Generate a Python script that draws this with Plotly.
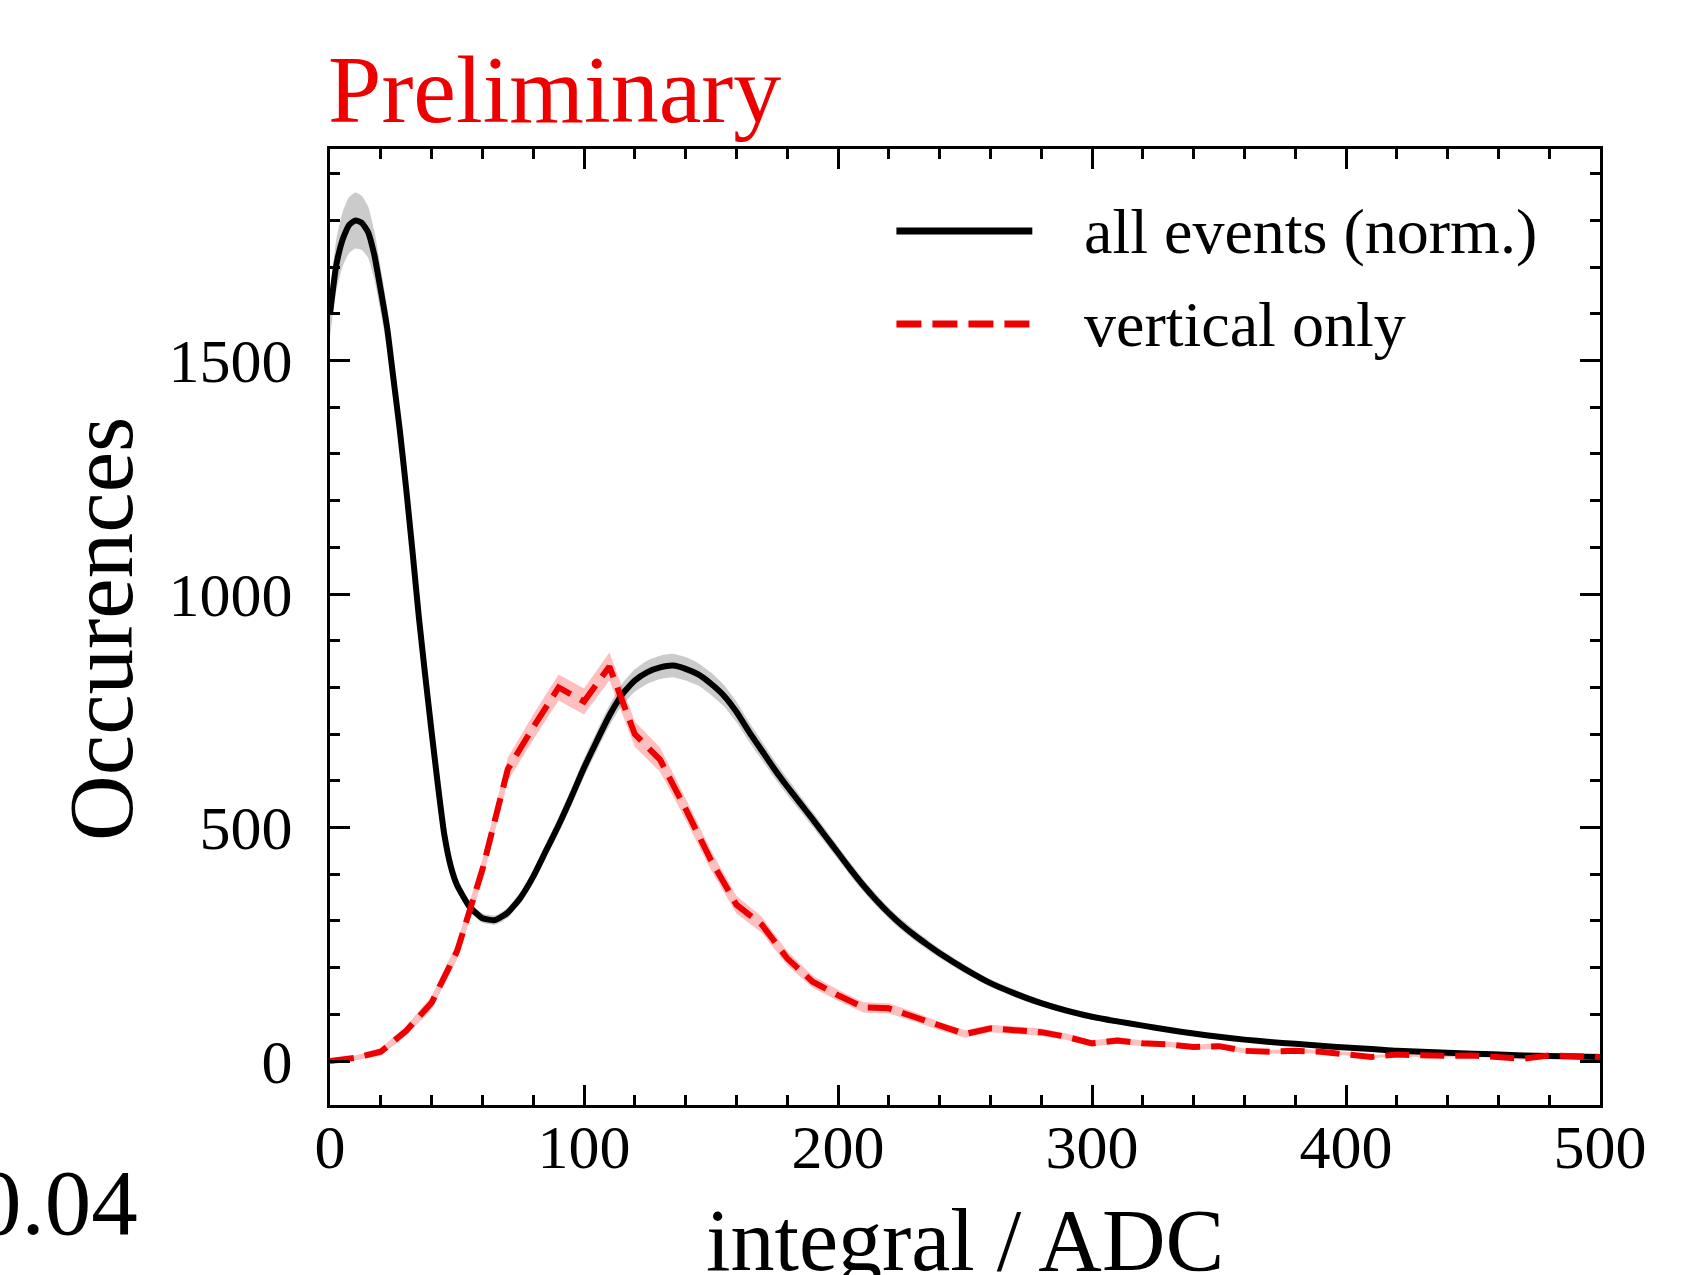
import plotly.graph_objects as go

# ---------------- data ----------------
all_x = [0, 2.5, 5, 7.5, 10, 12.5, 15, 17.5, 20, 22.5, 25, 27.5, 30, 32.5, 35, 37.5, 40, 42.5, 45, 47.5, 50,
         55, 60, 65, 70, 75, 80, 85, 90, 95, 100, 105, 110, 115, 120, 125, 130, 135, 140, 145, 150,
         155, 160, 165, 170, 175, 180, 185, 190, 195, 200, 205, 210, 215, 220, 225, 230, 235, 240,
         250, 260, 270, 280, 290, 300, 310, 320, 330, 340, 350, 360, 370, 380,
         390, 400, 410, 420, 430, 440, 450, 460, 470, 480, 490, 500]
all_y = [1600, 1705, 1760, 1790, 1800, 1795, 1775, 1725, 1650, 1570, 1460, 1350, 1225, 1090, 950, 825, 705, 590, 485, 418, 377,
         330, 306, 302, 318, 350, 395, 450, 505, 565, 628, 685, 740, 785, 815, 833, 843, 847, 840, 828, 808,
         783, 748, 705, 665, 625, 588, 553, 518, 482, 446, 410, 376, 345, 317, 292, 270, 250, 231,
         197, 167, 144, 124, 108, 95, 85, 76, 67, 59, 52, 46, 41, 37,
         33, 29, 26, 22, 20, 18, 16, 14, 12, 11, 10, 9]
all_err = [50, 55, 58, 60, 60, 58, 55, 52, 48, 45, 42, 40, 37, 35, 32, 28, 25, 20, 16, 14, 12,
           10, 10, 10, 11, 12, 14, 15, 17, 18, 20, 21, 22, 23, 24, 25, 25, 25, 25, 24, 24,
           23, 22, 21, 20, 19, 18, 17, 16, 15, 14, 14, 13, 13, 12, 12, 11, 11, 10,
           9, 8, 8, 7, 7, 6, 6, 5, 5, 5, 5, 4, 4, 4,
           4, 4, 4, 3, 3, 3, 3, 3, 3, 3, 3, 3]

vert_x = [0, 10, 20, 30, 40, 50, 60, 70, 80, 90, 100, 110, 120, 130, 140, 150, 160, 170, 180, 190,
          200, 210, 220, 230, 240, 250, 260, 270, 280, 290, 300, 310, 320, 330, 340, 350, 360, 370,
          380, 390, 400, 410, 420, 430, 440, 450, 460, 470, 480, 490, 500]
vert_y = [0, 7, 20, 65, 125, 235, 410, 625, 715, 800, 770, 845, 700, 645, 540, 430, 335, 292, 220, 170,
          141, 115, 113, 95, 75, 58, 70, 66, 62, 52, 38, 44, 38, 36, 30, 32, 22, 20,
          22, 20, 16, 9, 14, 12, 11, 12, 10, 5, 12, 9, 9]
vert_err = [3, 5, 8, 10, 14, 18, 22, 25, 27, 28, 28, 30, 27, 26, 23, 21, 19, 17, 15, 13,
            12, 11, 11, 10, 9, 8, 8, 8, 8, 7, 6, 7, 6, 6, 5, 6, 5, 4,
            5, 4, 4, 3, 4, 3, 3, 3, 3, 2, 3, 3, 3]

x_ticks = [0, 100, 200, 300, 400, 500]
y_ticks = [0, 500, 1000, 1500]
legend_names = ["all events (norm.)", "vertical only"]

FONT = "Liberation Serif, Times New Roman, serif"
RED = "#ee0000"

fig = go.Figure()

# uncertainty bands
fig.add_trace(go.Scatter(x=all_x, y=[v - e for v, e in zip(all_y, all_err)], mode="lines",
                         line=dict(width=0, shape="spline", smoothing=0.5), showlegend=False, hoverinfo="skip"))
fig.add_trace(go.Scatter(x=all_x, y=[v + e for v, e in zip(all_y, all_err)], mode="lines",
                         line=dict(width=0, shape="spline", smoothing=0.5), fill="tonexty",
                         fillcolor="rgba(160,160,160,0.55)", showlegend=False, hoverinfo="skip"))
fig.add_trace(go.Scatter(x=vert_x, y=[v - e for v, e in zip(vert_y, vert_err)], mode="lines",
                         line=dict(width=0), showlegend=False, hoverinfo="skip"))
fig.add_trace(go.Scatter(x=vert_x, y=[v + e for v, e in zip(vert_y, vert_err)], mode="lines",
                         line=dict(width=0), fill="tonexty", fillcolor="rgba(255,0,0,0.25)",
                         showlegend=False, hoverinfo="skip"))

# main curves
fig.add_trace(go.Scatter(x=all_x, y=all_y, mode="lines", name=legend_names[0],
                         line=dict(color="black", width=6, shape="spline", smoothing=0.5),
                         showlegend=False))
fig.add_trace(go.Scatter(x=vert_x, y=vert_y, mode="lines", name=legend_names[1],
                         line=dict(color=RED, width=6, dash="24px,11px"),
                         showlegend=False))

# manual legend (long line samples as in the reference)
leg_x0, leg_x1, leg_text_x = 0.446, 0.553, 0.592
leg_rows = [0.9142, 0.8169]
fig.add_shape(type="line", xref="paper", yref="paper", x0=leg_x0, x1=leg_x1, y0=leg_rows[0], y1=leg_rows[0],
              line=dict(color="black", width=7))
fig.add_shape(type="line", xref="paper", yref="paper", x0=leg_x0, x1=leg_x1, y0=leg_rows[1], y1=leg_rows[1],
              line=dict(color=RED, width=7, dash="25px,11px"))
for name, yy in zip(legend_names, leg_rows):
    fig.add_annotation(text=name, xref="paper", yref="paper", x=leg_text_x, y=yy,
                       xanchor="left", yanchor="middle", showarrow=False,
                       font=dict(family=FONT, size=64, color="black"))

# texts
fig.add_annotation(text="Preliminary", xref="paper", yref="paper", x=-0.003, y=1.062,
                   xanchor="left", yanchor="middle", showarrow=False,
                   font=dict(family=FONT, size=96, color=RED))
fig.add_annotation(text="Occurences", xref="paper", yref="paper", x=-0.1795, y=0.498,
                   xanchor="center", yanchor="middle", textangle=-90, showarrow=False,
                   font=dict(family=FONT, size=91, color="black"))
fig.add_annotation(text="integral / ADC", xref="paper", yref="paper", x=0.5, y=-0.142,
                   xanchor="center", yanchor="middle", showarrow=False,
                   font=dict(family=FONT, size=88, color="black"))
fig.add_annotation(text="0.04", xref="paper", yref="paper", x=-0.1495, y=-0.1015,
                   xanchor="right", yanchor="middle", showarrow=False,
                   font=dict(family=FONT, size=93, color="black"))

axis_common = dict(showline=True, linecolor="black", linewidth=3, mirror="allticks",
                   ticks="inside", tickcolor="black", tickwidth=3, ticklen=20,
                   showgrid=False, zeroline=False,
                   tickfont=dict(family=FONT, size=62, color="black"))

fig.update_xaxes(range=[0, 500], tickvals=x_ticks, ticktext=[str(v) for v in x_ticks],
                 ticklabelstandoff=-14,
                 minor=dict(dtick=20, ticks="inside", ticklen=10, tickwidth=3, tickcolor="black", showgrid=False),
                 **axis_common)
fig.update_yaxes(range=[-94, 1953], tickvals=y_ticks, ticktext=[str(v) for v in y_ticks],
                 ticklabelstandoff=22,
                 minor=dict(dtick=100, ticks="inside", ticklen=10, tickwidth=3, tickcolor="black", showgrid=False),
                 **axis_common)

fig.update_layout(width=1693, height=1275,
                  margin=dict(l=330, r=93, t=149, b=170, autoexpand=False),
                  paper_bgcolor="white", plot_bgcolor="white",
                  showlegend=False)

# remove the browser's default 8px body margin so the figure fills the window exactly
fig.write_html("out.html", config={"displayModeBar": False},
               post_script="document.body.style.margin='0';document.body.style.overflow='hidden';")
